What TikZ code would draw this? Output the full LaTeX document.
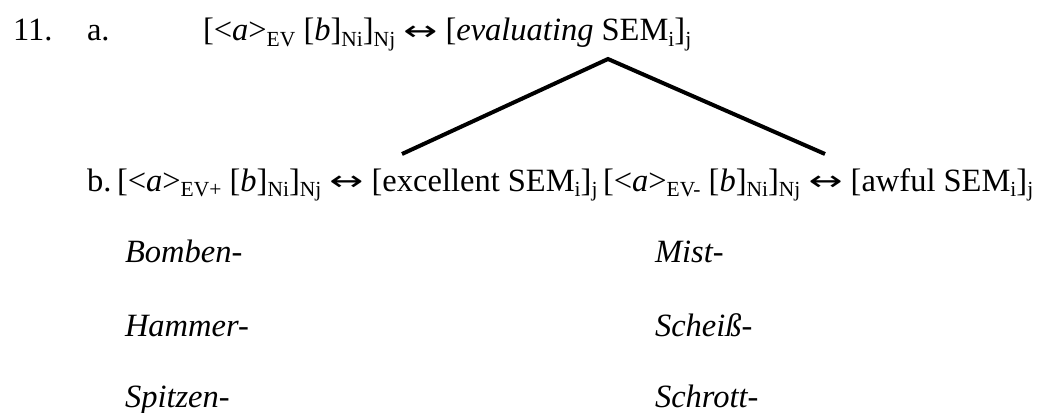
\documentclass[tikz,border=0pt]{standalone}
\usepackage{fontspec}
\setmainfont{Liberation Serif}
\newfontfamily\arrfont{DejaVu Sans}
\newcommand\lo[1]{\raisebox{-0.17em}{\fontsize{21.5}{21.5}\selectfont #1}}
\newcommand\biarrow{ \raisebox{0.02em}{\scalebox{1.25}[0.85]{\arrfont ↔}} }
\begin{document}
\begin{tikzpicture}[x=1pt,y=-1pt,
  txt/.style={anchor=base west,inner sep=0pt,outer sep=0pt,font=\fontsize{32.5}{39}\selectfont},
  ex/.style={txt,font=\fontsize{32.5}{39}\selectfont\itshape},
  branch/.style={line width=4pt,line cap=butt}]
\useasboundingbox[fill=white] (0,0) rectangle (1051,412);
\node[txt] (num) at (13,41) {11.};
\node[txt] (la) at (87,41) {a.};
\node[txt] (top) at (203,41) {[<\textit{a}>\lo{EV} [\textit{b}]\lo{Ni}]\lo{Nj}\biarrow[\textit{evaluating} SEM\lo{i}]\lo{j}};
\node[txt] (lb) at (87,191) {b.};
\node[txt] (pos) at (117,191) {[<\textit{a}>\lo{EV+} [\textit{b}]\lo{Ni}]\lo{Nj}\biarrow[excellent SEM\lo{i}]\lo{j}};
\node[txt] (neg) at (603,191) {[<\textit{a}>\lo{EV-} [\textit{b}]\lo{Ni}]\lo{Nj}\biarrow[awful SEM\lo{i}]\lo{j}};
\coordinate (apex) at (608,59);
\coordinate (lend) at (402,154);
\coordinate (rend) at (825,154);
\draw[branch] (lend) -- (apex) -- (rend);
\node[ex] (p1) at (125,262) {Bomben-};
\node[ex] (p2) at (125,336) {Hammer-};
\node[ex] (p3) at (125,407) {Spitzen-};
\node[ex] (n1) at (655,262) {Mist-};
\node[ex] (n2) at (655,336) {Scheiß-};
\node[ex] (n3) at (655,407) {Schrott-};
\end{tikzpicture}
\end{document}
